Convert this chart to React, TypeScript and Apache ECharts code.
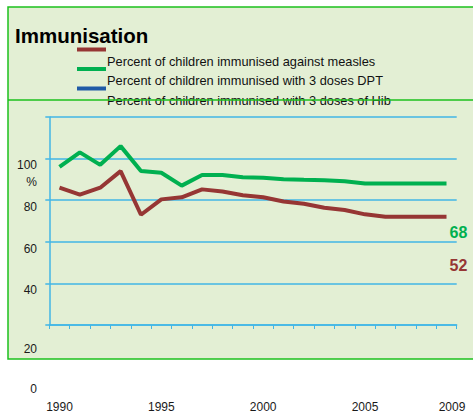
import React, { useEffect, useRef } from 'react';
import * as echarts from 'echarts';

const years = ['1990', '1991', '1992', '1993', '1994', '1995', '1996', '1997', '1998', '1999',
  '2000', '2001', '2002', '2003', '2004', '2005', '2006', '2007', '2008', '2009'];
const measles = [66, 62.7, 66, 74, 53, 60.4, 61.4, 65.2, 64.2, 62.4, 61.4, 59.4, 58.3, 56.4, 55.3, 53.2, 52, 52, 52, 52];
const dpt = [76, 83, 77, 86, 74, 73.2, 67, 72.1, 72.1, 71, 70.8, 70.1, 69.8, 69.6, 69.1, 68, 68, 68, 68, 68];
const hib: number[] = [];
const seriesNames = [
  'Percent of children immunised against measles',
  'Percent of children immunised with 3 doses DPT',
  'Percent of children immunised with 3 doses of Hib',
];
const titleText = 'Immunisation';
const yTickLabels = ['100', '%', '80', '60', '40', '20', '0'];
const xLabelIndices = [0, 5, 10, 15, 19];

const FONT = '"Liberation Sans", Arial, sans-serif';
const RED = '#963634';
const GREEN = '#00b050';
const BLUE = '#1f5aa6';
const GRID_BLUE = '#42b6e6';
const BORDER_GREEN = '#1cc11c';
const BG = '#e3efd4';

// label layout (positions kept separate from data)
const yLabelPos = [
  { x: 37, y: 165, align: 'right' },
  { x: 31.5, y: 182, align: 'center' },
  { x: 37, y: 207, align: 'right' },
  { x: 37, y: 248.5, align: 'right' },
  { x: 37, y: 290, align: 'right' },
  { x: 37, y: 349, align: 'right' },
  { x: 37, y: 389, align: 'right' },
];

export default function App() {
  const ref = useRef<HTMLDivElement>(null);
  useEffect(() => {
    if (!ref.current) return;
    const chart = echarts.init(ref.current, undefined, { renderer: 'svg' });
    const yTexts = yTickLabels.map((t, i) => ({
      type: 'text',
      x: yLabelPos[i].x,
      y: yLabelPos[i].y,
      z: 50,
      style: {
        text: t,
        fontSize: 12,
        fontFamily: FONT,
        fill: '#1a1a1a',
        align: yLabelPos[i].align,
        verticalAlign: 'middle',
      },
    }));
    const lastIdx = years.length - 1;
    chart.setOption({
      animation: false,
      title: {
        text: titleText,
        left: 15,
        top: 23.4,
        padding: 0,
        textStyle: { fontSize: 20.5, fontWeight: 'bold', fontFamily: FONT, color: '#000', lineHeight: 24 },
      },
      legend: {
        orient: 'vertical',
        left: 77,
        top: 31,
        padding: 0,
        itemGap: -17.5,
        itemWidth: 29,
        itemHeight: 4,
        icon: 'rect',
        selectedMode: false,
        data: seriesNames,
        formatter: '{a|{name}}',
        textStyle: {
          fontSize: 12.8,
          fontFamily: FONT,
          color: '#111',
          lineHeight: 14,
          padding: [23, 0, 0, -4],
          rich: { a: { fontSize: 12.8, fontFamily: FONT, color: '#111', lineHeight: 14 } },
        },
      },
      grid: { left: 49.3, right: 16.3, top: 117, height: 208, containLabel: false, outerBoundsMode: 'none' },
      xAxis: {
        type: 'category',
        data: years,
        boundaryGap: true,
        axisLine: { show: true, lineStyle: { color: GRID_BLUE, width: 1.5 } },
        axisTick: { show: true, interval: 0, length: 4, lineStyle: { color: GRID_BLUE, width: 1 } },
        axisLabel: {
          interval: (idx: number) => xLabelIndices.includes(idx),
          formatter: (v: string, idx: number) => (idx === lastIdx ? '{s|' + v + '}' : v),
          rich: { s: { padding: [0, 0, 0, 11], fontSize: 12, fontFamily: FONT, color: '#1a1a1a' } },
          margin: 76,
          fontSize: 12,
          fontFamily: FONT,
          color: '#1a1a1a',
        },
        splitLine: { show: false },
      },
      yAxis: {
        type: 'value',
        min: 0,
        max: 100,
        interval: 20,
        axisLine: { show: true, lineStyle: { color: GRID_BLUE, width: 1.5 } },
        axisTick: { show: true, length: 4, lineStyle: { color: GRID_BLUE, width: 1.5 } },
        axisLabel: { show: false },
        splitLine: { show: true, lineStyle: { color: GRID_BLUE, width: 1.5 } },
      },
      series: [
        {
          name: seriesNames[0],
          type: 'line',
          data: measles,
          symbol: 'none',
          color: RED,
          lineStyle: { width: 4, color: RED },
          itemStyle: { color: RED },
          endLabel: {
            show: true,
            formatter: (p: any) => String(p.value),
            distance: 0,
            offset: [3, 48.5],
            fontSize: 16,
            fontWeight: 'bold',
            fontFamily: FONT,
            color: RED,
          },
        },
        {
          name: seriesNames[1],
          type: 'line',
          data: dpt,
          symbol: 'none',
          color: GREEN,
          lineStyle: { width: 4, color: GREEN },
          itemStyle: { color: GREEN },
          endLabel: {
            show: true,
            formatter: (p: any) => String(p.value),
            distance: 0,
            offset: [3, 48.5],
            fontSize: 16,
            fontWeight: 'bold',
            fontFamily: FONT,
            color: GREEN,
          },
        },
        {
          name: seriesNames[2],
          type: 'line',
          data: hib,
          symbol: 'none',
          color: BLUE,
          lineStyle: { width: 4, color: BLUE },
          itemStyle: { color: BLUE },
        },
      ],
      graphic: [
        {
          type: 'rect',
          z: -10,
          shape: { x: 8, y: 7, width: 480, height: 352 },
          style: { fill: BG, stroke: BORDER_GREEN, lineWidth: 1.5 },
          silent: true,
        },
        {
          type: 'line',
          z: 100,
          shape: { x1: 8, y1: 100, x2: 473, y2: 100 },
          style: { stroke: BORDER_GREEN, lineWidth: 1.6 },
          silent: true,
        },
        ...yTexts,
      ],
    });
    return () => chart.dispose();
  }, []);
  return (
    <div
      ref={ref}
      style={{ position: 'absolute', left: 0, top: 0, width: 473, height: 411 }}
    />
  );
}
